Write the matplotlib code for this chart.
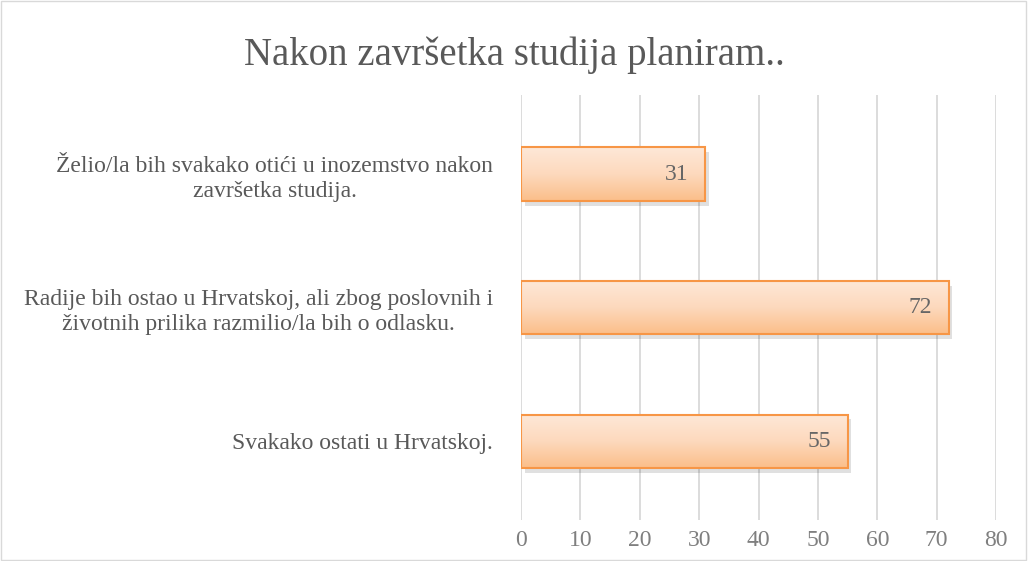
import numpy as np
import matplotlib.pyplot as plt
from matplotlib.colors import LinearSegmentedColormap
from matplotlib.patches import Rectangle

plt.rcParams['font.family'] = ['Liberation Serif', 'DejaVu Serif']

categories = ["Svakako ostati u Hrvatskoj.",
              "Radije bih ostao u Hrvatskoj, ali zbog poslovnih i\nživotnih prilika razmilio/la bih o odlasku.",
              "Želio/la bih svakako otići u inozemstvo nakon\nzavršetka studija."]
values = [55, 72, 31]
ticks = [0, 10, 20, 30, 40, 50, 60, 70, 80]

fig = plt.figure(figsize=(10.28, 5.61), dpi=100)
ax = fig.add_axes([0.5068, 0.073, 0.4621, 0.757])

y = np.arange(len(values))
h = 0.4
cmap = LinearSegmentedColormap.from_list("peach", ["#FBBE8A", "#FDD9BD", "#FEE8D8"])
grad = np.linspace(0, 1, 100).reshape(-1, 1)

bars = ax.barh(y, values, height=h, color="none", edgecolor="#F79646", linewidth=1.5, zorder=3)
for b, v in zip(bars, values):
    # shadow
    ax.add_patch(Rectangle((b.get_x() + 0.6, b.get_y() - 0.035), b.get_width(), b.get_height(),
                           facecolor="#000000", alpha=0.12, edgecolor="none", zorder=2))
    im = ax.imshow(grad, cmap=cmap, aspect="auto", origin="lower",
                   extent=[b.get_x(), b.get_x() + b.get_width(), b.get_y(), b.get_y() + b.get_height()],
                   zorder=2.5)
    im.set_clip_path(b)
    ax.text(v - 4.8, b.get_y() + b.get_height() / 2, str(v), ha="center", va="center",
            fontsize=17, color="#666666", zorder=4)

ax.set_xlim(0, 80)
ax.set_ylim(-0.59, 2.59)
ax.set_xticks(ticks)
ax.set_yticks(y)
ax.set_yticklabels(categories, fontsize=17, color="#595959", ha="right",
                   multialignment="center", linespacing=1.25)
ax.tick_params(axis="x", labelsize=17, labelcolor="#7F7F7F", length=0, pad=7)
ax.tick_params(axis="y", length=0, pad=20)
ax.grid(axis="x", color="#D9D9D9", linewidth=1.3, zorder=0)
ax.set_axisbelow(True)
for s in ax.spines.values():
    s.set_visible(False)

fig.text(0.5, 0.902, "Nakon završetka studija planiram..", ha="center", va="center",
         fontsize=28, color="#595959")
fig.patches.append(Rectangle((0.001, 0.001), 0.997, 0.997, transform=fig.transFigure,
                             fill=False, edgecolor="#D9D9D9", linewidth=1))

fig.savefig("out.png", dpi=100)
